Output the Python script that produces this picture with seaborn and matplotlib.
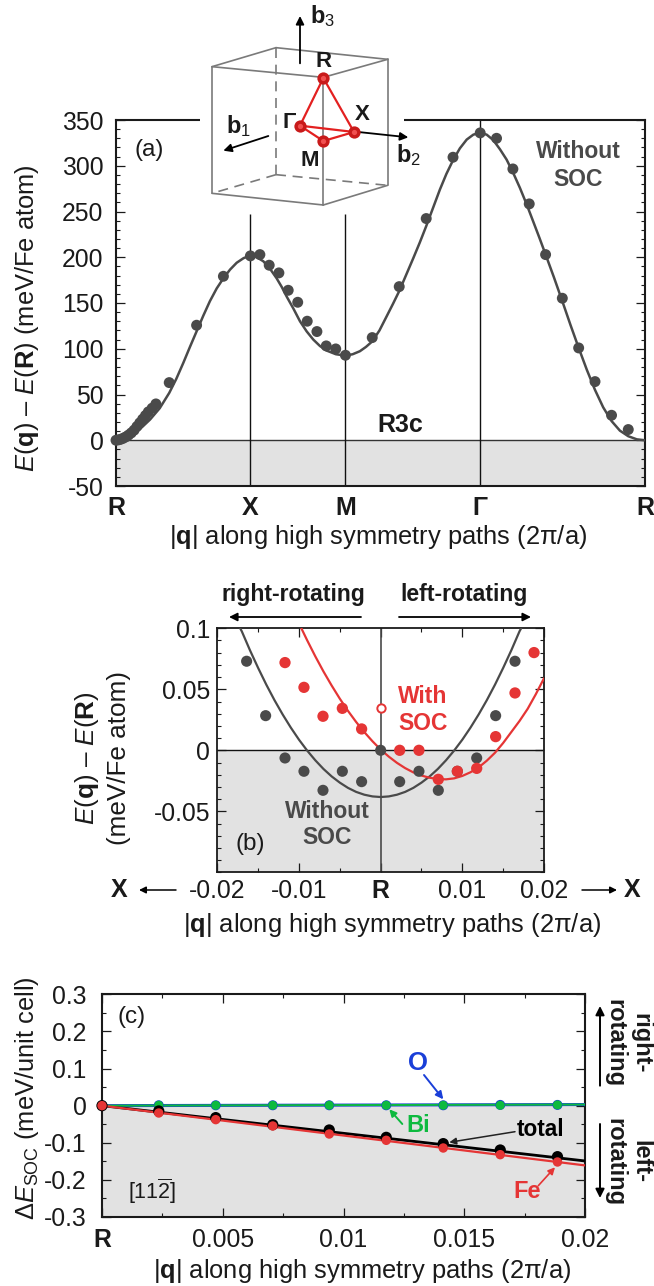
import matplotlib
matplotlib.use("Agg")
import matplotlib.pyplot as plt
import seaborn as sns
from matplotlib.ticker import MultipleLocator

W, H = 654, 1286
GREY = "#4a4a4a"
RED = "#e53535"
GREEN = "#0dba3f"
BLUE = "#1a3fd8"
SHADE = "#e2e2e2"

# ---------- panel (a) ----------
a_path_ticks = [0.0, 0.707, 1.207, 1.914, 2.783]
a_path_labels = ["R", "X", "M", "Γ", "R"]
a_dots_q = [0.0, 0.012, 0.024, 0.036, 0.05, 0.065, 0.08, 0.095, 0.11, 0.125, 0.14, 0.155, 0.17, 0.19, 0.21,
            0.28, 0.424, 0.565, 0.707, 0.757, 0.806, 0.857, 0.906, 0.956, 1.006, 1.057, 1.106, 1.156, 1.207,
            1.348, 1.49, 1.632, 1.773, 1.916, 2.002, 2.088, 2.174, 2.26, 2.348, 2.434, 2.52, 2.607, 2.695]
a_dots_e = [0.0, 0.4, 1.0, 2.0, 3.5, 5.5, 8.0, 11.0, 15.0, 19.0, 23.0, 27.0, 31.0, 35.0, 39.7,
            63.0, 125.7, 179.2, 201.5, 202.9, 191.3, 182.9, 163.9, 150.8, 130.1, 118.8, 103.1, 99.8, 92.9,
            112.2, 167.9, 242.3, 309.3, 335.9, 330.0, 296.5, 258.3, 202.9, 155.2, 100.9, 64.1, 27.3, 11.7]
a_fit_q = [0.0, 0.045, 0.091, 0.135, 0.179, 0.23, 0.28, 0.317, 0.354, 0.389, 0.424, 0.459, 0.494, 0.53, 0.565,
           0.6, 0.635, 0.671, 0.707, 0.741, 0.775, 0.81, 0.845, 0.872, 0.898, 0.933, 0.968, 1.003, 1.038,
           1.073, 1.108, 1.157, 1.207, 1.245, 1.283, 1.315, 1.348, 1.386, 1.424, 1.457, 1.49, 1.527, 1.564,
           1.598, 1.632, 1.668, 1.704, 1.738, 1.773, 1.809, 1.845, 1.88, 1.916, 1.95, 1.985, 2.02, 2.055,
           2.09, 2.125, 2.16, 2.195, 2.228, 2.26, 2.304, 2.348, 2.391, 2.434, 2.477, 2.52, 2.563, 2.607,
           2.651, 2.695, 2.74, 2.783]
a_fit_e = [0.0, 2.0, 7.0, 14.0, 22.6, 35.0, 51.7, 67.0, 84.5, 102.0, 119.0, 136.0, 152.0, 166.0, 177.0,
           186.5, 194.0, 199.0, 202.0, 200.0, 195.6, 187.5, 177.0, 167.5, 157.0, 144.0, 130.0, 119.0, 110.0,
           103.0, 98.0, 94.0, 92.5, 94.0, 97.3, 102.0, 108.0, 120.0, 135.5, 149.0, 163.0, 181.0, 199.0,
           216.0, 234.0, 254.0, 274.0, 291.0, 306.0, 319.0, 328.6, 334.0, 336.0, 334.0, 328.0, 318.0, 306.7,
           292.0, 275.8, 258.0, 239.0, 221.0, 203.0, 178.0, 152.0, 126.0, 101.0, 77.0, 55.0, 36.0, 21.0,
           10.5, 4.4, 1.0, 0.0]

# ---------- panel (b) ----------
b_grey_q = [-0.01641, -0.01408, -0.01171, -0.00939, -0.00706, -0.00469, -0.00233, 0.0,
            0.00233, 0.00469, 0.00706, 0.00939, 0.01176, 0.01408, 0.01645]
b_grey_e = [0.073, 0.0284, -0.0063, -0.0172, -0.0328, -0.0172, -0.0257, 0.0,
            -0.0257, -0.0172, -0.0328, -0.0172, -0.0063, 0.0284, 0.073]
b_red_q = [-0.01171, -0.00939, -0.00706, -0.00469, -0.00233, 0.00233, 0.00469, 0.00706,
           0.00939, 0.01176, 0.01408, 0.01645, 0.01878]
b_red_e = [0.0719, 0.0516, 0.0279, 0.0344, 0.0175, 0.0, 0.0, -0.0238,
           -0.0172, -0.0148, 0.0112, 0.047, 0.0801]
b_open_q = [0.0]
b_open_e = [0.0344]
b_fit0_q = [-0.0172, -0.017, -0.016, -0.015, -0.014, -0.013, -0.012, -0.011, -0.01, -0.009, -0.008, -0.007,
            -0.006, -0.005, -0.004, -0.003, -0.002, -0.001, 0.0, 0.001, 0.002, 0.003, 0.004, 0.005, 0.006,
            0.007, 0.008, 0.009, 0.01, 0.011, 0.012, 0.013, 0.014, 0.015, 0.016, 0.017, 0.0172]
b_fit0_e = [0.1, 0.0975, 0.082, 0.0675, 0.0538, 0.0411, 0.0294, 0.0186, 0.0087, -0.0002, -0.0082, -0.0153,
            -0.0214, -0.0265, -0.0308, -0.0341, -0.0364, -0.0378, -0.0383, -0.0378, -0.0364, -0.0341, -0.0308,
            -0.0265, -0.0214, -0.0153, -0.0082, -0.0002, 0.0087, 0.0186, 0.0294, 0.0411, 0.0538, 0.0675,
            0.082, 0.0975, 0.1]
b_fit1_q = [-0.0097, -0.009, -0.008, -0.007, -0.006, -0.005, -0.004, -0.003, -0.002, -0.001, 0.0, 0.001,
            0.002, 0.003, 0.004, 0.005, 0.006, 0.007, 0.008, 0.009, 0.01, 0.011, 0.012, 0.013, 0.014, 0.015,
            0.016, 0.017, 0.018, 0.019, 0.02]
b_fit1_e = [0.0999, 0.0902, 0.077, 0.0646, 0.0531, 0.0423, 0.0323, 0.0232, 0.0149, 0.0074, 0.0006, -0.0052,
            -0.0103, -0.0146, -0.0181, -0.0207, -0.0225, -0.0236, -0.0238, -0.023, -0.021, -0.018, -0.014,
            -0.0085, -0.002, 0.006, 0.015, 0.024, 0.034, 0.046, 0.059]

# ---------- panel (c) ----------
c_q = [0.0, 0.00235, 0.00471, 0.00707, 0.00941, 0.01177, 0.01413, 0.01649, 0.01886]
c_total = [0.0, -0.0144, -0.0323, -0.0512, -0.0656, -0.0854, -0.1024, -0.1195, -0.1375]
c_fe = [0.0, -0.0198, -0.0377, -0.0548, -0.0764, -0.0934, -0.1141, -0.1321, -0.1518]
c_bi = [0.0, 0.001, 0.001, 0.001, 0.001, 0.001, 0.001, 0.001, 0.002]
c_o = [0.0, 0.001, 0.001, 0.001, 0.001, 0.001, 0.001, 0.002, 0.002]
c_line_q = [0.0, 0.02]
c_total_line = [0.0, -0.149]
c_fe_line = [0.0, -0.161]
c_bi_line = [0.0, 0.003]
c_o_line = [0.0, 0.003]

sns.set_theme(style="ticks")
plt.rcParams.update({
    "font.family": ["Liberation Sans", "DejaVu Sans"],
    "mathtext.fontset": "custom",
    "mathtext.rm": "Liberation Sans",
    "mathtext.it": "Liberation Sans:italic",
    "mathtext.bf": "Liberation Sans:bold",
    "axes.unicode_minus": False,
    "text.color": "#1a1a1a",
    "axes.edgecolor": "#1a1a1a",
    "xtick.color": "#1a1a1a",
    "ytick.color": "#1a1a1a",
})
FS = 17.8
LS = 18.4

fig = plt.figure(figsize=(W / 100, H / 100), dpi=100, facecolor="white")


def box(l, t, r, b):
    return fig.add_axes([l / W, 1 - b / H, (r - l) / W, (b - t) / H])


def style(ax, lw=1.3):
    for s in ax.spines.values():
        s.set_linewidth(lw)
    ax.tick_params(which="major", direction="in", length=6.5, width=0.9, top=True, right=True, labelsize=FS)
    ax.tick_params(which="minor", direction="in", length=3, width=0.8, top=True, right=True)
    ax.set_xlabel("")
    ax.set_ylabel("")


def curve(ax, x, y, c, lw=1.6, z=3):
    sns.lineplot(x=x, y=y, ax=ax, color=c, lw=lw, estimator=None, sort=False, zorder=z, legend=False)


def dots(ax, x, y, c, s=52, z=4, **kw):
    kw.setdefault("edgecolor", "none")
    sns.scatterplot(x=x, y=y, ax=ax, color=c, s=s, zorder=z, clip_on=False, legend=False, **kw)


# panel a
axa = box(116, 120, 645, 486)
axa.axhspan(-50, 0, color=SHADE, lw=0, zorder=0)
curve(axa, a_fit_q, a_fit_e, GREY, lw=1.8)
dots(axa, a_dots_q, a_dots_e, GREY, s=62)
axa.axhline(0, color="#333333", lw=1, zorder=2)
axa.vlines(a_path_ticks[1:3], -50, 247, color="#111111", lw=1, zorder=2)
axa.vlines(a_path_ticks[3], -50, 350, color="#111111", lw=1, zorder=2)
axa.set_xlim(0, 2.783)
axa.set_ylim(-50, 350)
style(axa, 1.5)
axa.yaxis.set_major_locator(MultipleLocator(50))
axa.yaxis.set_minor_locator(MultipleLocator(10))
axa.set_xticks(a_path_ticks)
axa.set_xticklabels(a_path_labels, fontweight="bold", fontsize=18)
axa.tick_params(axis="x", which="major", length=0, pad=7)
axa.tick_params(axis="y", which="major", pad=9)

# panel b
axb = box(217.3, 628.3, 544, 872.3)
axb.axhspan(-0.1, 0, color=SHADE, lw=0, zorder=0)
axb.axhline(0, color="#111111", lw=1, zorder=2)
axb.axvline(0, color=GREY, lw=1.2, zorder=2)
curve(axb, b_fit0_q, b_fit0_e, GREY)
curve(axb, b_fit1_q, b_fit1_e, RED)
dots(axb, b_grey_q, b_grey_e, GREY, s=64)
dots(axb, b_red_q, b_red_e, RED, s=66, z=5)
dots(axb, b_open_q, b_open_e, "white", s=36, z=5, linewidth=1.4)
axb.collections[-1].set_edgecolor(RED)
axb.set_xlim(-0.02, 0.02)
axb.set_ylim(-0.1, 0.1)
style(axb, 1.3)
axb.set_xticks([-0.02, -0.01, 0, 0.01, 0.02])
axb.set_xticklabels(["-0.02", "-0.01", "R", "0.01", "0.02"])
axb.get_xticklabels()[2].set_fontweight("bold")
axb.xaxis.set_minor_locator(MultipleLocator(0.005))
axb.set_yticks([0.1, 0.05, 0, -0.05])
axb.set_yticklabels(["0.1", "0.05", "0", "-0.05"])
axb.yaxis.set_minor_locator(MultipleLocator(0.01))
axb.tick_params(axis="x", which="major", pad=5)
axb.tick_params(axis="y", which="major", pad=5)

# panel c
axc = box(102, 994.3, 585, 1217)
axc.axhspan(-0.3, 0, color=SHADE, lw=0, zorder=0)
curve(axc, c_line_q, c_o_line, BLUE, lw=2.2)
curve(axc, c_line_q, c_bi_line, GREEN, lw=1.4, z=3.1)
curve(axc, c_line_q, c_total_line, "black", lw=2)
curve(axc, c_line_q, c_fe_line, RED, lw=1.6, z=3.2)
dots(axc, c_q, c_o, BLUE, s=52, z=4)
dots(axc, c_q[1:], c_bi[1:], GREEN, s=42, z=4.1)
dots(axc, c_q, c_total, "black", s=66, z=4.2)
dots(axc, c_q, c_fe, RED, s=46, z=4.3)
axc.set_xlim(0, 0.02)
axc.set_ylim(-0.3, 0.3)
style(axc, 1.5)
axc.set_xticks([0, 0.005, 0.01, 0.015, 0.02])
axc.set_xticklabels(["R", "0.005", "0.01", "0.015", "0.02"])
axc.get_xticklabels()[0].set_fontweight("bold")
axc.xaxis.set_minor_locator(MultipleLocator(0.0025))
axc.set_yticks([0.3, 0.2, 0.1, 0, -0.1, -0.2, -0.3])
axc.set_yticklabels(["0.3", "0.2", "0.1", "0", "-0.1", "-0.2", "-0.3"])
axc.yaxis.set_minor_locator(MultipleLocator(0.05))
axc.tick_params(axis="x", which="major", pad=8)
axc.tick_params(axis="y", which="major", pad=11)

# overlay drawn in figure pixels for the diagram and the annotations
ov = fig.add_axes([0, 0, 1, 1], zorder=10)
ov.set_xlim(0, W)
ov.set_ylim(H, 0)
ov.axis("off")
ov.patch.set_alpha(0)


def T(x, y, s, size=FS, weight="normal", color="#1a1a1a", **kw):
    ov.text(x, y, s, fontsize=size, fontweight=weight, color=color, ha=kw.pop("ha", "center"),
            va=kw.pop("va", "center"), **kw)


def A(x0, y0, x1, y1, color="black", lw=1.3, ms=12):
    ov.annotate("", xy=(x1, y1), xytext=(x0, y0),
                arrowprops=dict(arrowstyle="-|>", color=color, lw=lw, mutation_scale=ms, shrinkA=0, shrinkB=0))


# break in the top frame of panel a, behind the diagram
ov.fill_between([200, 404], 117, 123, color="white", lw=0, zorder=0)


def Z(zx, zy):
    return 100 + zx / 3, zy / 3


def seg(p, q, **kw):
    a, b = Z(*p), Z(*q)
    ov.plot([a[0], b[0]], [a[1], b[1]], **kw)


edge = dict(color="#7a7a7a", lw=1.2, solid_capstyle="round")
dash = dict(color="#7a7a7a", lw=1.2, ls=(0, (6, 4)))
for p, q in [((336, 200), (670, 232)), ((670, 232), (863, 178)), ((336, 200), (528, 143)), ((528, 143), (863, 178)),
             ((336, 200), (336, 580)), ((670, 232), (670, 615)), ((863, 178), (863, 556)),
             ((336, 580), (670, 615)), ((670, 615), (863, 556))]:
    seg(p, q, **edge)
for p, q in [((528, 143), (528, 524)), ((528, 524), (336, 580)), ((528, 524), (863, 556))]:
    seg(p, q, **dash)
Rp, Gp, Xp, Mp = (670, 234), (600, 377), (762, 396), (670, 423)
for p, q in [(Rp, Gp), (Rp, Xp), (Gp, Xp), (Gp, Mp), (Mp, Xp)]:
    seg(p, q, color="#e32020", lw=1.6)
for p in (Rp, Gp, Xp, Mp):
    x, y = Z(*p)
    ov.scatter([x], [y], s=78, color="#c81a1a", zorder=5, lw=0)
    ov.scatter([x], [y], s=14, color="#f05050", zorder=6, lw=0)
A(*Z(600, 190), *Z(600, 48))
A(*Z(505, 408), *Z(370, 452))
A(*Z(775, 396), *Z(925, 412))
T(*Z(672, 185), "R", 16, "bold")
T(*Z(568, 367), "Γ", 16, "bold")
T(*Z(787, 345), "X", 16, "bold")
T(*Z(628, 480), "M", 16, "bold")
T(*Z(668, 47), r"$\mathbf{b}_{3}$", 17)
T(*Z(415, 378), r"$\mathbf{b}_{1}$", 17)
T(*Z(925, 465), r"$\mathbf{b}_{2}$", 17)

T(149, 150, "(a)", 17.5)
T(578, 151.5, "Without", 16.5, "bold", GREY)
T(578, 179, "SOC", 16.5, "bold", GREY)
T(400.7, 425, "R3c", 18, "bold")
T(27, 318, r"$\mathit{E}$($\mathbf{q}$) – $\mathit{E}$($\mathbf{R}$) (meV/Fe atom)", LS, rotation=90)
T(378, 537, r"|$\mathbf{q}$| along high symmetry paths (2π/a)", LS)

T(293, 595, "right-rotating", 16.6, "bold")
T(464, 595, "left-rotating", 16.6, "bold")
A(361, 617, 229, 617)
A(399, 617, 531, 617)
T(250.7, 844, "(b)", 17.5)
T(423, 696.7, "With", 16.5, "bold", RED)
T(423, 724, "SOC", 16.5, "bold", RED)
T(327, 811.7, "Without", 16.5, "bold", GREY)
T(327, 838, "SOC", 16.5, "bold", GREY)
T(87, 758, r"$\mathit{E}$($\mathbf{q}$) – $\mathit{E}$($\mathbf{R}$)", 18.8, rotation=90)
T(119, 758, "(meV/Fe atom)", 18.8, rotation=90)
T(119, 890, "X", 18, "bold")
T(632, 890, "X", 18, "bold")
A(176, 890, 139, 890, lw=1.1, ms=10)
A(582, 890, 617, 890, lw=1.1, ms=10)
T(392, 925, r"|$\mathbf{q}$| along high symmetry paths (2π/a)", LS)

T(131.7, 1016.7, "(c)", 17.5)
T(151.7, 1191.7, r"[11$\overline{\mathrm{2}}$]", 15.5)
T(417.7, 1063, "O", 18.5, "bold", BLUE)
A(424, 1075, 443.3, 1099.3, BLUE, 1.4, 11)
T(417.7, 1125, "Bi", 17, "bold", GREEN)
A(402.3, 1124, 389.3, 1109.3, GREEN, 1.4, 10)
T(541, 1129.3, "total", 16.3, "bold", "black")
A(515, 1131.7, 449.3, 1142.3, "#222222", 1.1, 10)
T(527.3, 1191, "Fe", 17, "bold", RED)
A(538.3, 1185.7, 555, 1167.3, RED, 1.2, 10)
A(600, 1085.7, 600, 1006, "black", 1.4, 13)
A(600, 1124, 600, 1198, "black", 1.4, 13)
T(641, 1043, "right-", 17, "bold", rotation=270)
T(615, 1043, "rotating", 17, "bold", rotation=270)
T(641, 1161.7, "left-", 17, "bold", rotation=270)
T(615, 1161.7, "rotating", 17, "bold", rotation=270)
T(27, 1098, r"$\Delta\mathit{E}_{\mathrm{SOC}}$ (meV/unit cell)", 18.4, rotation=90)
T(362, 1271, r"|$\mathbf{q}$| along high symmetry paths (2π/a)", LS)

fig.savefig("out.png", dpi=100, facecolor="white")
